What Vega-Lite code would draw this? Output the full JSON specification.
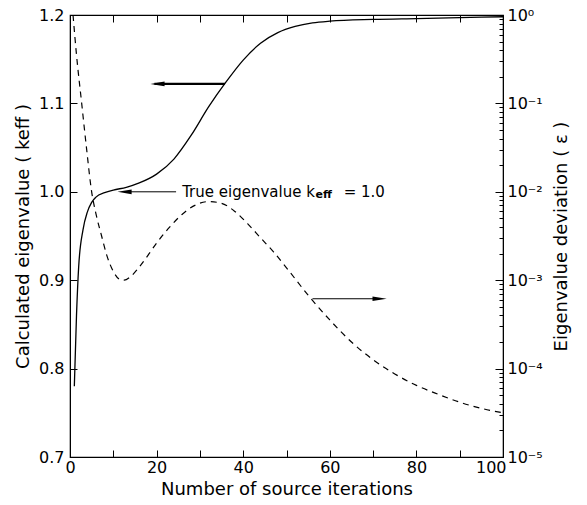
{
  "$schema": "https://vega.github.io/schema/vega-lite/v6.json",
  "width": 433,
  "height": 442,
  "autosize": "none",
  "padding": {"left": 70, "top": 15, "right": 84, "bottom": 48},
  "background": "white",
  "config": {
    "view": {"stroke": "black", "strokeWidth": 1.2},
    "font": "DejaVu Sans",
    "axis": {
      "domainColor": "black",
      "tickColor": "black",
      "tickWidth": 1,
      "labelColor": "black",
      "titleColor": "black",
      "labelFont": "DejaVu Sans",
      "titleFont": "DejaVu Sans",
      "labelFontSize": 16,
      "titleFontSize": 18,
      "titleFontWeight": "normal",
      "grid": false,
      "labelOverlap": false,
      "labelFlush": false
    }
  },
  "datasets": {
    "keff": [
      {"iter": 1, "k": 0.78},
      {"iter": 1.5, "k": 0.86},
      {"iter": 2, "k": 0.915},
      {"iter": 3, "k": 0.957},
      {"iter": 4, "k": 0.977},
      {"iter": 5, "k": 0.988},
      {"iter": 6, "k": 0.994},
      {"iter": 8, "k": 0.999},
      {"iter": 10, "k": 1.002},
      {"iter": 13, "k": 1.005},
      {"iter": 16, "k": 1.01},
      {"iter": 20, "k": 1.02},
      {"iter": 24, "k": 1.037},
      {"iter": 28, "k": 1.064},
      {"iter": 32, "k": 1.096},
      {"iter": 36, "k": 1.124},
      {"iter": 40, "k": 1.149},
      {"iter": 44, "k": 1.168},
      {"iter": 48, "k": 1.18},
      {"iter": 52, "k": 1.187},
      {"iter": 56, "k": 1.191},
      {"iter": 60, "k": 1.193},
      {"iter": 70, "k": 1.195},
      {"iter": 80, "k": 1.196},
      {"iter": 90, "k": 1.197},
      {"iter": 100, "k": 1.198}
    ],
    "eps": [
      {"iter": 0.7, "eps": 1.0},
      {"iter": 1.5, "eps": 0.355},
      {"iter": 2.7, "eps": 0.1},
      {"iter": 3.8, "eps": 0.0316},
      {"iter": 5.0, "eps": 0.01},
      {"iter": 6.0, "eps": 0.00562},
      {"iter": 7.3, "eps": 0.00316},
      {"iter": 8.5, "eps": 0.00191},
      {"iter": 10, "eps": 0.00126},
      {"iter": 11.5, "eps": 0.00102},
      {"iter": 12.5, "eps": 0.001},
      {"iter": 14, "eps": 0.0011},
      {"iter": 16, "eps": 0.00141},
      {"iter": 18, "eps": 0.00191},
      {"iter": 20, "eps": 0.00263},
      {"iter": 23, "eps": 0.00398},
      {"iter": 26, "eps": 0.00562},
      {"iter": 29, "eps": 0.00708},
      {"iter": 32, "eps": 0.00776},
      {"iter": 35, "eps": 0.00741},
      {"iter": 38, "eps": 0.00603},
      {"iter": 41, "eps": 0.00437},
      {"iter": 44, "eps": 0.00302},
      {"iter": 47, "eps": 0.00209},
      {"iter": 50, "eps": 0.00138},
      {"iter": 55, "eps": 0.000676},
      {"iter": 60, "eps": 0.000355},
      {"iter": 65, "eps": 0.0002},
      {"iter": 70, "eps": 0.000126},
      {"iter": 75, "eps": 0.0000871},
      {"iter": 80, "eps": 0.0000646},
      {"iter": 85, "eps": 0.0000513},
      {"iter": 90, "eps": 0.0000417},
      {"iter": 95, "eps": 0.0000355},
      {"iter": 100, "eps": 0.0000316}
    ],
    "arrows": [
      {"name": "a1", "from": 35.8, "to": 19.5, "k": 1.122},
      {"name": "a2", "from": 24.5, "to": 12.5, "k": 1.0},
      {"name": "a3", "from": 56, "to": 71.5, "k": 0.879}
    ],
    "heads": [
      {"name": "a1", "iter": 20.2, "k": 1.122, "dir": "left"},
      {"name": "a2", "iter": 12.6, "k": 1.0, "dir": "left"},
      {"name": "a3", "iter": 71.5, "k": 0.879, "dir": "right"}
    ],
    "labels": [
      {"iter": 25.9, "k": 1.0, "part": "main", "text": "True eigenvalue  k"},
      {"iter": 56.7, "k": 0.996, "part": "sub", "text": "eff"},
      {"iter": 63.2, "k": 1.0, "part": "tail", "text": "= 1.0"}
    ]
  },
  "resolve": {"scale": {"y": "independent"}, "axis": {"x": "independent"}},
  "layer": [
    {
      "layer": [
        {
          "data": {"name": "keff"},
          "mark": {"type": "line", "color": "black", "strokeWidth": 1.3, "interpolate": "monotone"},
          "encoding": {
            "x": {
              "field": "iter", "type": "quantitative",
              "scale": {"domain": [0, 100], "nice": false},
              "axis": {
                "orient": "bottom",
                "values": [0, 10, 20, 30, 40, 50, 60, 70, 80, 90, 100],
                "labelExpr": "datum.value % 20 == 0 ? datum.label : ''",
                "labelAlign": {"condition": {"test": "datum.value == 100", "value": "right"}, "value": "center"},
                "labelOffset": {"condition": {"test": "datum.value == 100", "value": 3}, "value": 0},
                "ticks": true,
                "tickSize": -7,
                "labelPadding": 9,
                "title": "Number of source iterations",
                "titlePadding": 5
              }
            },
            "y": {
              "field": "k", "type": "quantitative",
              "scale": {"domain": [0.7, 1.2], "nice": false, "zero": false},
              "axis": {
                "orient": "left",
                "values": [0.7, 0.8, 0.9, 1.0, 1.1, 1.2],
                "format": ".1f",
                "ticks": true,
                "tickSize": -7,
                "labelPadding": 13,
                "title": "Calculated eigenvalue ( keff )",
                "titlePadding": 6
              }
            }
          }
        },
        {
          "data": {"name": "arrows"},
          "transform": [{"filter": "datum.name == 'a1'"}],
          "mark": {"type": "rule", "color": "black", "strokeWidth": 2.2},
          "encoding": {
            "x": {"field": "from", "type": "quantitative"},
            "x2": {"field": "to"},
            "y": {"field": "k", "type": "quantitative"}
          }
        },
        {
          "data": {"name": "arrows"},
          "transform": [{"filter": "datum.name != 'a1'"}],
          "mark": {"type": "rule", "color": "black", "strokeWidth": 1},
          "encoding": {
            "x": {"field": "from", "type": "quantitative"},
            "x2": {"field": "to"},
            "y": {"field": "k", "type": "quantitative"}
          }
        },
        {
          "data": {"name": "heads"},
          "mark": {"type": "point", "filled": true, "color": "black", "opacity": 1, "size": 200},
          "encoding": {
            "x": {"field": "iter", "type": "quantitative"},
            "y": {"field": "k", "type": "quantitative"},
            "shape": {
              "field": "dir", "type": "nominal",
              "scale": {"domain": ["left", "right"], "range": ["M -1 0 L 1 -0.33 L 1 0.33 Z", "M 1 0 L -1 -0.33 L -1 0.33 Z"]},
              "legend": null
            }
          }
        },
        {
          "data": {"name": "labels"},
          "transform": [{"filter": "datum.part != 'sub'"}],
          "mark": {"type": "text", "align": "left", "baseline": "middle", "fontSize": 15, "color": "black", "font": "DejaVu Sans"},
          "encoding": {
            "x": {"field": "iter", "type": "quantitative"},
            "y": {"field": "k", "type": "quantitative"},
            "text": {"field": "text"}
          }
        },
        {
          "data": {"name": "labels"},
          "transform": [{"filter": "datum.part == 'sub'"}],
          "mark": {"type": "text", "align": "left", "baseline": "middle", "fontSize": 11, "fontWeight": "bold", "color": "black", "font": "DejaVu Sans"},
          "encoding": {
            "x": {"field": "iter", "type": "quantitative"},
            "y": {"field": "k", "type": "quantitative"},
            "text": {"field": "text"}
          }
        }
      ]
    },
    {
      "data": {"name": "eps"},
      "mark": {"type": "line", "color": "black", "strokeWidth": 1.2, "strokeDash": [6, 5], "interpolate": "monotone"},
      "encoding": {
        "x": {
          "field": "iter", "type": "quantitative",
          "scale": {"domain": [0, 100], "nice": false},
          "axis": {
            "orient": "top",
            "values": [10, 20, 30, 40, 50, 60, 70, 80, 90],
            "labels": false,
            "ticks": true,
            "tickSize": -7,
            "domain": false,
            "title": null
          }
        },
        "y": {
          "field": "eps", "type": "quantitative",
          "scale": {"type": "log", "domain": [0.00001, 1], "nice": false},
          "axis": {
            "orient": "right",
            "values": [0.00001, 0.00002, 0.00003, 0.00004, 0.00005, 0.00006, 0.00007, 0.00008, 0.00009,
                       0.0001, 0.0002, 0.0003, 0.0004, 0.0005, 0.0006, 0.0007, 0.0008, 0.0009,
                       0.001, 0.002, 0.003, 0.004, 0.005, 0.006, 0.007, 0.008, 0.009,
                       0.01, 0.02, 0.03, 0.04, 0.05, 0.06, 0.07, 0.08, 0.09,
                       0.1, 0.2, 0.3, 0.4, 0.5, 0.6, 0.7, 0.8, 0.9, 1],
            "labelExpr": "abs(log(datum.value)/LN10 - round(log(datum.value)/LN10)) < 0.01 ? ['10⁰','10⁻¹','10⁻²','10⁻³','10⁻⁴','10⁻⁵'][-round(log(datum.value)/LN10)] : ''",
            "ticks": true,
            "tickSize": {"condition": {"test": "abs(log(datum.value)/LN10 - round(log(datum.value)/LN10)) < 0.01", "value": -8}, "value": -4},
            "labelPadding": 12,
            "title": "Eigenvalue deviation ( ε )",
            "titleAngle": 270,
            "titlePadding": 28
          }
        }
      }
    }
  ]
}
